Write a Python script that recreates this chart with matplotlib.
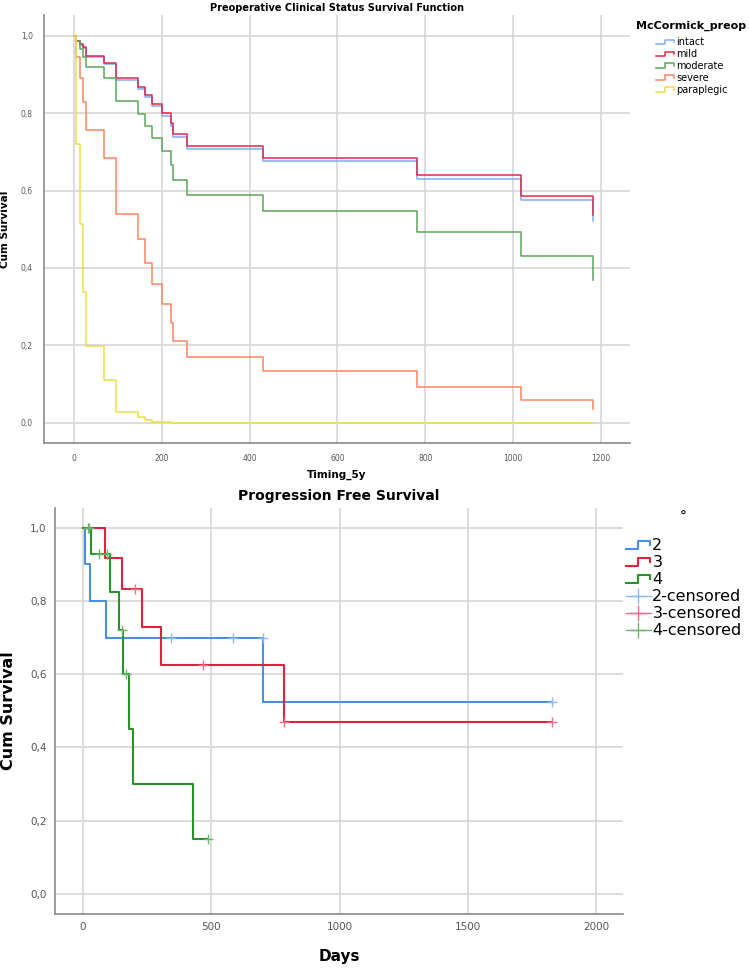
import numpy as np
import matplotlib
matplotlib.use("Agg")
import matplotlib.pyplot as plt
from matplotlib.lines import Line2D
from matplotlib.legend_handler import HandlerBase

# ---- top chart: survival function per preoperative McCormick grade ----
top_groups = ["intact", "mild", "moderate", "severe", "paraplegic"]
top_colors = ["#7eaef2", "#e0284c", "#5aa65a", "#ff8462", "#eede48"]
top_times = [0, 4, 14, 20, 27, 68, 96, 147, 162, 178, 200, 222, 225, 258, 430, 782, 1019, 1181]
surv_intact = [1.0, 0.987, 0.977, 0.969, 0.945, 0.928, 0.886, 0.862, 0.842, 0.818, 0.794,
               0.767, 0.739, 0.708, 0.676, 0.630, 0.576, 0.522]
surv_mild = [1.0, 0.988, 0.979, 0.972, 0.948, 0.931, 0.890, 0.867, 0.847, 0.824, 0.800,
             0.774, 0.746, 0.715, 0.684, 0.639, 0.586, 0.537]
surv_moderate = [1.0, 0.986, 0.965, 0.945, 0.919, 0.891, 0.831, 0.798, 0.768, 0.736, 0.702,
                 0.666, 0.627, 0.589, 0.548, 0.494, 0.431, 0.369]
surv_severe = [1.0, 0.945, 0.890, 0.829, 0.757, 0.683, 0.539, 0.474, 0.413, 0.357, 0.306,
               0.257, 0.211, 0.170, 0.133, 0.093, 0.058, 0.034]
surv_paraplegic = [1.0, 0.72, 0.513, 0.337, 0.198, 0.110, 0.028, 0.013, 0.007, 0.002, 0.001,
                   0.0, 0.0, 0.0, 0.0, 0.0, 0.0, 0.0]
top_surv = [surv_intact, surv_mild, surv_moderate, surv_severe, surv_paraplegic]

# ---- bottom chart: progression free survival (Kaplan-Meier) ----
pfs_groups = ["2", "3", "4"]
pfs_colors = ["#4a8fe3", "#e0203c", "#2a922a"]
cens_colors = ["#8fb8ee", "#ee7088", "#6fb46f"]
pfs_times = [[0, 8, 27, 90, 700, 1827],
             [0, 87, 152, 230, 303, 784, 1827],
             [0, 30, 107, 140, 157, 181, 194, 429, 489]]
pfs_surv = [[1.0, 0.90, 0.80, 0.70, 0.525, 0.525],
            [1.0, 0.917, 0.833, 0.729, 0.625, 0.469, 0.469],
            [1.0, 0.928, 0.825, 0.722, 0.601, 0.451, 0.30, 0.15, 0.15]]
cens_times = [[342, 585, 700, 1827],
              [204, 469, 784, 1827],
              [18, 24, 64, 92, 152, 168, 489]]
cens_surv = [[0.70, 0.70, 0.70, 0.525],
             [0.833, 0.625, 0.469, 0.469],
             [1.0, 1.0, 0.928, 0.928, 0.722, 0.601, 0.15]]


class StepHandler(HandlerBase):
    # small step glyph like the SPSS legend
    def create_artists(self, legend, orig_handle, xdescent, ydescent, width, height, fontsize, trans):
        x = np.array([0, 0.5, 0.5, 0.95, 0.95]) * width - xdescent
        y = np.array([0.1, 0.1, 0.8, 0.8, 0.45]) * height - ydescent
        line = Line2D(x, y, color=orig_handle.get_color(), lw=orig_handle.get_linewidth())
        line.set_transform(trans)
        return [line]


def fmt_comma(v, pos):
    return "{:.1f}".format(v).replace(".", ",")


def style_axes(ax, tick_size, pad):
    for s in ["top", "right"]:
        ax.spines[s].set_visible(False)
    for s in ["left", "bottom"]:
        ax.spines[s].set_color("#8a8a8a")
        ax.spines[s].set_linewidth(1.2)
    ax.grid(True, color="#d6d6d6", linewidth=1.2)
    ax.set_axisbelow(True)
    ax.tick_params(length=0, labelsize=tick_size, labelcolor="#555555", pad=pad)
    ax.yaxis.set_major_formatter(plt.FuncFormatter(fmt_comma))
    ax.set_yticks([0, 0.2, 0.4, 0.6, 0.8, 1.0])


fig = plt.figure(figsize=(7.49, 9.74), dpi=100)
W, H = 749, 974

# top axes
ax1 = fig.add_axes([44 / W, 1 - 443 / H, (630 - 44) / W, (443 - 15) / H])
for name, col, s in zip(top_groups, top_colors, top_surv):
    ax1.plot(top_times, s, drawstyle="steps-post", color=col, lw=1.1, label=name)
ax1.set_xlim(-68, 1266)
ax1.set_ylim(-0.053, 1.054)
ax1.set_xticks([0, 200, 400, 600, 800, 1000, 1200])
style_axes(ax1, 5.5, 8)
ax1.set_title("Preoperative Clinical Status Survival Function", fontsize=7, fontweight="bold", pad=3)
ax1.set_xlabel("Timing_5y", fontsize=7.5, fontweight="bold", labelpad=5)
ax1.set_ylabel("Cum Survival", fontsize=7.5, fontweight="bold", labelpad=8)

fig.text(636 / W, 1 - 26 / H, "McCormick_preop", fontsize=8, fontweight="bold", va="center")
h1, l1 = ax1.get_legend_handles_labels()
fig.legend(h1, l1, handler_map={Line2D: StepHandler()}, loc="upper left",
           bbox_to_anchor=(656 / W, 1 - 37 / H), frameon=False, fontsize=7,
           borderpad=0, borderaxespad=0, handlelength=1.9, handletextpad=0.2,
           labelspacing=0.2)

# bottom axes
ax2 = fig.add_axes([55 / W, 1 - 914 / H, (623 - 55) / W, (914 - 508) / H])
step_handles = []
for name, col, t, s in zip(pfs_groups, pfs_colors, pfs_times, pfs_surv):
    ln, = ax2.plot(t, s, drawstyle="steps-post", color=col, lw=1.5, label=name)
    step_handles.append(ln)
cens_handles = []
for name, col, ct, cs in zip(pfs_groups, cens_colors, cens_times, cens_surv):
    ax2.plot(ct, cs, linestyle="none", marker="+", markersize=7, markeredgewidth=1.0, color=col)
    cens_handles.append(Line2D([0], [0], color=col, lw=1.0, marker="+", markersize=12,
                               markeredgewidth=1.0, label=name + "-censored"))
ax2.set_xlim(-109, 2105)
ax2.set_ylim(-0.055, 1.054)
ax2.set_xticks([0, 500, 1000, 1500, 2000])
style_axes(ax2, 7.5, 6)
ax2.set_title("Progression Free Survival", fontsize=10, fontweight="bold", pad=6)
ax2.set_xlabel("Days", fontsize=11, fontweight="bold", labelpad=12)
ax2.set_ylabel("Cum Survival", fontsize=11.5, fontweight="bold", labelpad=10)

fig.text(683 / W, 1 - 517 / H, "°", fontsize=10, ha="center", va="center")
handler_map = {h: StepHandler() for h in step_handles}
fig.legend(step_handles + cens_handles, [h.get_label() for h in step_handles + cens_handles],
           handler_map=handler_map, loc="upper left", bbox_to_anchor=(626 / W, 1 - 538 / H),
           frameon=False, fontsize=11.5, borderpad=0, borderaxespad=0, handlelength=1.55,
           handletextpad=0.1, labelspacing=0.13)

fig.savefig("out.png", dpi=100, facecolor="white")
